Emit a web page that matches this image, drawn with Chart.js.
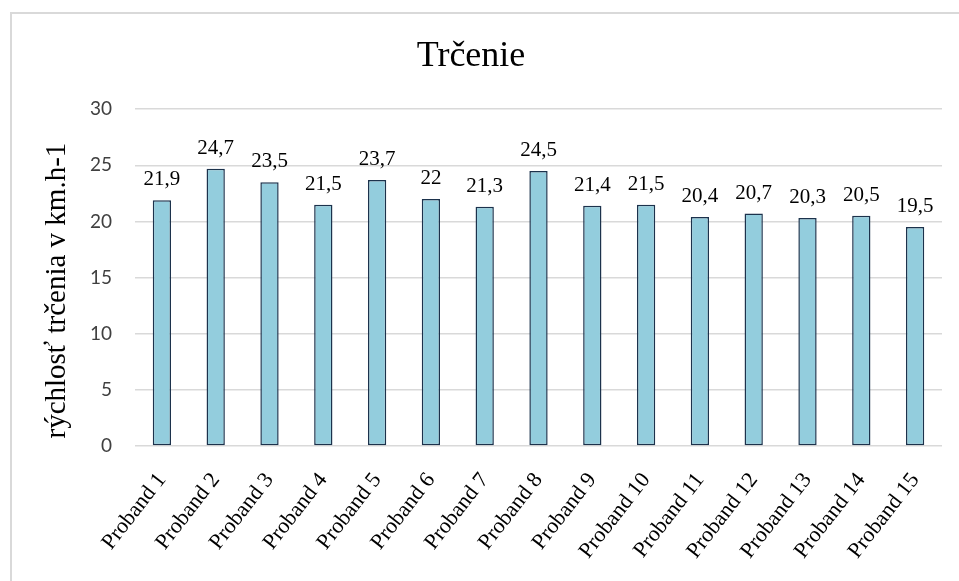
<!DOCTYPE html>
<html>
<head>
<meta charset="utf-8">
<script src="https://cdn.jsdelivr.net/npm/chart.js@4/dist/chart.umd.min.js"></script>
<style>
  html, body { margin: 0; padding: 0; background: #ffffff; }
  #wrap { position: relative; width: 959px; height: 581px; overflow: hidden; }
  #frame { position: absolute; left: 10px; top: 12px; width: 2000px; height: 2000px;
           border-left: 2px solid #d9d9d9; border-top: 2px solid #d9d9d9; box-sizing: border-box; }
  canvas { position: absolute; left: 0; top: 0; }
</style>
</head>
<body>
<div id="wrap">
  <div id="frame"></div>
  <canvas id="c" width="959" height="581"></canvas>
</div>
<script>
const chartTitle = "Trčenie";
const yAxisTitle = "rýchlosť trčenia v km.h-1";
const categories = ["Proband 1","Proband 2","Proband 3","Proband 4","Proband 5","Proband 6","Proband 7","Proband 8","Proband 9","Proband 10","Proband 11","Proband 12","Proband 13","Proband 14","Proband 15"];
const values = [21.9, 24.7, 23.5, 21.5, 23.7, 22, 21.3, 24.5, 21.4, 21.5, 20.4, 20.7, 20.3, 20.5, 19.5];
const yMin = 0, yMax = 30, yStep = 5;

const serif = "'Liberation Serif', 'Times New Roman', serif";

const valueLabels = {
  id: 'valueLabels',
  afterDatasetsDraw(chart) {
    const ctx = chart.ctx;
    const meta = chart.getDatasetMeta(0);
    ctx.save();
    ctx.font = "21px " + serif;
    ctx.fillStyle = "#000000";
    ctx.textAlign = "center";
    ctx.textBaseline = "alphabetic";
    meta.data.forEach((bar, i) => {
      const txt = String(values[i]).replace('.', ',');
      ctx.fillText(txt, bar.x, bar.y - 15);
    });
    ctx.restore();
  }
};

const yTitlePlugin = {
  id: 'yTitlePlugin',
  afterDraw(chart) {
    const ctx = chart.ctx;
    const area = chart.chartArea;
    ctx.save();
    ctx.font = "29px " + serif;
    ctx.fillStyle = "#000000";
    ctx.textAlign = "center";
    ctx.textBaseline = "middle";
    ctx.translate(57, (area.top + area.bottom) / 2 + 13);
    ctx.rotate(-Math.PI / 2);
    ctx.fillText(yAxisTitle, 0, 0);
    ctx.restore();
  }
};

new Chart(document.getElementById('c'), {
  type: 'bar',
  data: {
    labels: categories,
    datasets: [{
      data: values,
      backgroundColor: '#93cddd',
      borderColor: '#1c324c',
      borderWidth: 1.5,
      borderSkipped: false,
      categoryPercentage: 1.0,
      barPercentage: 0.34
    }]
  },
  options: {
    responsive: false,
    animation: false,
    layout: { padding: { left: 0, right: 17, top: 12, bottom: 0 } },
    plugins: {
      legend: { display: false },
      tooltip: { enabled: false },
      title: {
        display: true,
        text: chartTitle,
        color: '#000000',
        font: { family: serif, size: 36, weight: 'normal', lineHeight: 1.2 },
        padding: { top: 23, bottom: 31 }
      }
    },
    scales: {
      x: {
        grid: { display: false },
        border: { display: false },
        ticks: {
          color: '#000000',
          font: { family: serif, size: 22 },
          maxRotation: 52,
          minRotation: 52,
          padding: 14,
          autoSkip: false
        },
        afterFit(scale) { scale.height = 135; }
      },
      y: {
        min: yMin,
        max: yMax,
        ticks: {
          stepSize: yStep,
          color: '#404040',
          font: { family: "Lato, 'Liberation Sans', sans-serif", size: 19 },
          padding: 23
        },
        grid: { color: '#d9d9d9', lineWidth: 1.5, drawTicks: false },
        border: { display: false },
        title: { display: false },
        afterFit(scale) { scale.width = 135; }
      }
    }
  },
  plugins: [valueLabels, yTitlePlugin]
});
</script>
</body>
</html>
